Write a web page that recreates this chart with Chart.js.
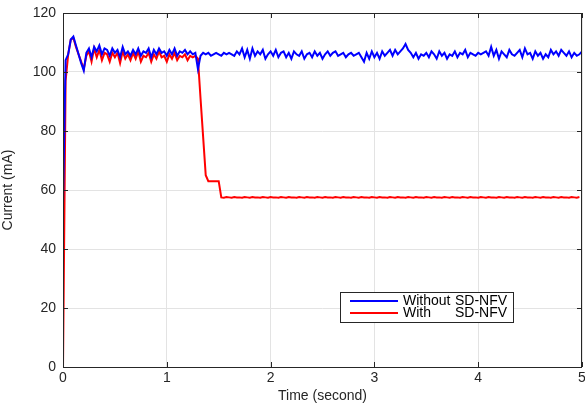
<!DOCTYPE html>
<html>
<head>
<meta charset="utf-8">
<script src="https://cdn.jsdelivr.net/npm/chart.js@4.4.1/dist/chart.umd.min.js"></script>
<style>
  html, body { margin: 0; padding: 0; background: #fff; }
  #wrap { width: 585px; height: 405px; }
</style>
</head>
<body>
<div id="wrap"><canvas id="currentChart" width="585" height="405"></canvas></div>
<script>
// sampling step of both traces (seconds)
const sampleStep = 0.025;

const seriesNames = ["Without SD-NFV", "With SD-NFV"];

// current without SD-NFV (mA), one value every 0.025 s from 0 to 5 s
const blueCurrent = [
  55, 104, 106, 111, 112, 109, 106, 103, 100.5,
  106.5, 108, 105, 108.5, 107, 109, 106, 108, 107.5, 105.5,
  108, 106.5, 107.5, 105, 108.5, 106, 107, 105.5, 107.5, 106,
  108, 105.5, 107, 106.5, 108, 105, 107.5, 106, 108, 106.5,
  107, 105.5, 107.5, 106, 108, 105.5, 107, 106.5, 107.5, 106,
  107, 106, 106.5,
  101, 105.5, 106.5,
  106, 106.5, 105.5, 106, 106.5, 106, 105.5, 106.5, 106, 106.5,
  106, 105.5, 107, 106, 108, 105, 107.5, 104.5, 108, 105.5,
  107, 106, 107.5, 104.5, 106, 107, 105.5, 107.5, 105, 106.5,
  107, 105, 106.5, 104.5, 107, 106, 105.5, 107, 104.5, 106,
  106.5, 105, 107, 105.5, 106.5, 104.5, 106, 107, 105.5, 106.5,
  107, 105.5, 106, 106.5, 105, 106, 106.5, 105.5, 106, 106.5,
  105, 103.5, 106.5, 104.5, 107, 105, 106.5, 104.5, 107, 105.5,
  106.5, 107.5, 105.5, 107.5, 106, 107, 108, 109.5, 107.5, 106.5,
  105, 106.5, 104.5, 106, 105.5, 106.5, 105, 107, 106, 104.5,
  107, 105.5, 106.5, 104.5, 106, 105.5, 107, 105, 106.5, 106,
  107.5, 105, 106.5, 106, 105.5, 106.5, 106, 106.5, 107, 105.5,
  108.5, 105.5, 107.5, 104.5, 107, 106, 105, 107.5, 106, 105.5,
  106.5, 107.5, 105, 108, 106, 106.5, 104.5, 107, 105.5, 106.5,
  104.5, 106, 105, 107.5, 106, 107, 105.5, 107.5, 106.5, 105.5,
  107, 105, 106.5, 105.5, 106, 107
];

// current with SD-NFV (mA), same sampling
const redCurrent = [
  0, 97, 106, 111, 111.5, 108.5, 106, 103.5, 101,
  105.5, 107, 103.5, 108, 105, 107.5, 104, 106.5, 106, 103.5,
  106.5, 105, 106.5, 103, 107, 104.5, 106, 104, 106.5, 104.5,
  107, 103.5, 105.5, 105, 106.5, 103.5, 106, 104.5, 107, 105,
  105.5, 103.5, 106, 104.5, 106.5, 104, 105.5, 105, 106, 104,
  105.5, 105, 105.5,
  104.5, 91, 78, 65, 63, 63, 63, 63, 63,
  57.5, 57.4, 57.6, 57.5, 57.4, 57.6, 57.5, 57.5, 57.4, 57.6,
  57.5, 57.4, 57.6, 57.5, 57.5, 57.4, 57.6, 57.5, 57.4, 57.6,
  57.5, 57.5, 57.4, 57.6, 57.5, 57.4, 57.6, 57.5, 57.5, 57.4,
  57.6, 57.5, 57.4, 57.6, 57.5, 57.5, 57.4, 57.6, 57.5, 57.4,
  57.6, 57.5, 57.5, 57.4, 57.6, 57.5, 57.4, 57.6, 57.5, 57.5,
  57.4, 57.6, 57.5, 57.4, 57.6, 57.5, 57.5, 57.4, 57.6, 57.5,
  57.4, 57.6, 57.5, 57.5, 57.4, 57.6, 57.5, 57.4, 57.6, 57.5,
  57.5, 57.4, 57.6, 57.5, 57.4, 57.6, 57.5, 57.5, 57.4, 57.6,
  57.5, 57.4, 57.6, 57.5, 57.5, 57.4, 57.6, 57.5, 57.4, 57.6,
  57.5, 57.5, 57.4, 57.6, 57.5, 57.4, 57.6, 57.5, 57.5, 57.4,
  57.6, 57.5, 57.4, 57.6, 57.5, 57.5, 57.4, 57.6, 57.5, 57.4,
  57.6, 57.5, 57.5, 57.4, 57.6, 57.5, 57.4, 57.6, 57.5, 57.5,
  57.4, 57.6, 57.5, 57.4, 57.6, 57.5, 57.5, 57.4, 57.6, 57.5,
  57.4, 57.6, 57.5, 57.5, 57.4, 57.6, 57.5, 57.4, 57.6
];

const toPoints = (vals) => vals.map((v, i) => ({ x: i * sampleStep, y: v }));

const axisColor = "#262626";
const fontFamily = "'Liberation Sans', Arial, sans-serif";

// box around the plot, inward ticks and the legend (drawn like matlab)
const matlabBox = {
  id: "matlabBox",
  afterDraw(chart) {
    const { ctx, chartArea: a, scales } = chart;
    ctx.save();
    ctx.strokeStyle = axisColor;
    ctx.lineWidth = 1;
    ctx.strokeRect(a.left + 0.5, a.top + 0.5, a.right - a.left - 1, a.bottom - a.top);

    ctx.beginPath();
    scales.x.ticks.forEach(t => {
      const px = Math.round(scales.x.getPixelForValue(t.value)) + 0.5;
      ctx.moveTo(px, a.bottom); ctx.lineTo(px, a.bottom - 5);
      ctx.moveTo(px, a.top); ctx.lineTo(px, a.top + 5);
    });
    scales.y.ticks.forEach(t => {
      const py = Math.round(scales.y.getPixelForValue(t.value)) + 0.5;
      ctx.moveTo(a.left, py); ctx.lineTo(a.left + 5, py);
      ctx.moveTo(a.right, py); ctx.lineTo(a.right - 5, py);
    });
    ctx.stroke();

    // legend
    const bx = 340, by = 292, bw = 173, bh = 30;
    ctx.fillStyle = "#fff";
    ctx.fillRect(bx, by, bw, bh);
    ctx.strokeStyle = axisColor;
    ctx.strokeRect(bx + 0.5, by + 0.5, bw, bh);
    ctx.font = "14px " + fontFamily;
    ctx.textBaseline = "middle";
    chart.data.datasets.forEach((ds, i) => {
      const y = by + 9 + i * 12;
      ctx.strokeStyle = ds.borderColor;
      ctx.lineWidth = 2;
      ctx.beginPath();
      ctx.moveTo(350, y); ctx.lineTo(398, y);
      ctx.stroke();
      const parts = ds.label.split(" ");
      ctx.fillStyle = "#000";
      ctx.fillText(parts[0], 403, y + 0.5);
      ctx.fillText(parts.slice(1).join(" "), 455, y + 0.5);
    });
    ctx.restore();
  }
};

const ctx = document.getElementById("currentChart").getContext("2d");
new Chart(ctx, {
  type: "line",
  data: {
    datasets: [
      {
        label: seriesNames[0],
        data: toPoints(blueCurrent),
        borderColor: "#0000ff",
        borderWidth: 2,
        pointRadius: 0,
        tension: 0,
        fill: false
      },
      {
        label: seriesNames[1],
        data: toPoints(redCurrent),
        borderColor: "#ff0000",
        borderWidth: 2,
        pointRadius: 0,
        tension: 0,
        fill: false
      }
    ]
  },
  options: {
    responsive: false,
    animation: false,
    events: [],
    layout: { padding: { top: 13, right: 3, left: 0, bottom: 0 } },
    plugins: {
      legend: { display: false },
      tooltip: { enabled: false }
    },
    scales: {
      x: {
        type: "linear",
        min: 0,
        max: 5,
        ticks: {
          stepSize: 1,
          color: axisColor,
          font: { family: fontFamily, size: 14 },
          padding: 3,
          maxRotation: 0
        },
        grid: { color: "#e3e3e3", drawTicks: false },
        border: { display: false },
        title: {
          display: true,
          text: "Time (second)",
          color: axisColor,
          font: { family: fontFamily, size: 14 },
          padding: { top: 0, bottom: 0 }
        },
        afterFit(scale) {
          scale.height = 38;
          scale.paddingLeft = 0;
          scale.paddingRight = 0;
        }
      },
      y: {
        min: 0,
        max: 120,
        ticks: {
          stepSize: 20,
          color: axisColor,
          font: { family: fontFamily, size: 14 },
          padding: 7
        },
        grid: { color: "#e3e3e3", drawTicks: false },
        border: { display: false },
        title: {
          display: true,
          text: "Current (mA)",
          color: axisColor,
          font: { family: fontFamily, size: 14 },
          padding: { top: 0, bottom: 0 }
        },
        afterFit(scale) {
          scale.width = 63;
          scale.paddingTop = 0;
          scale.paddingBottom = 0;
        }
      }
    }
  },
  plugins: [matlabBox]
});
</script>
</body>
</html>
